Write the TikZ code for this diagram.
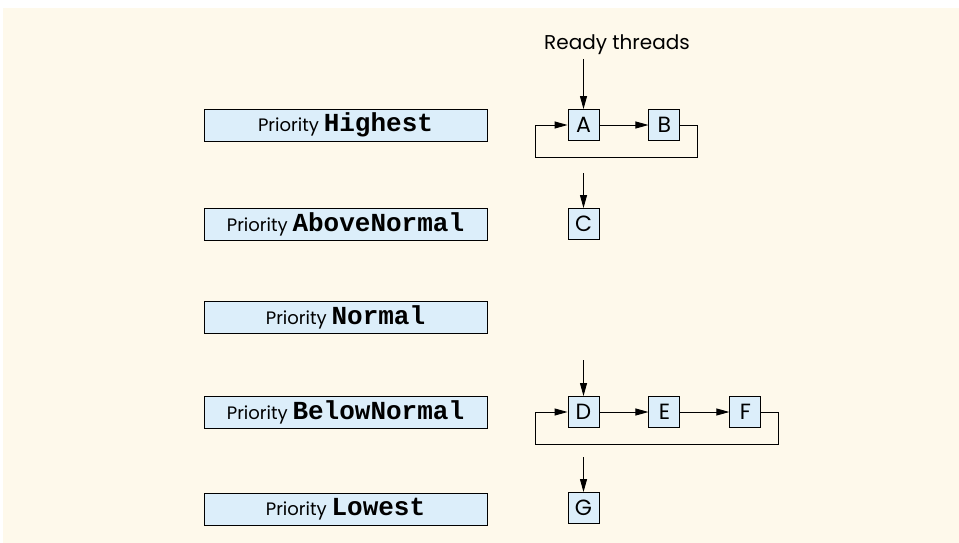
\documentclass[tikz,border=0pt]{standalone}
\usepackage{fontspec}
\setmainfont{Poppins}
\setmonofont{Liberation Mono}
\usepackage{xcolor}
\definecolor{paper}{HTML}{FEF9EB}
\definecolor{boxfill}{HTML}{DCEEFA}
\usetikzlibrary{arrows.meta, positioning, calc}

\newcommand{\prio}[1]{Priority {\fontsize{26}{26}\selectfont\ttfamily\bfseries #1}}

\begin{document}
\begin{tikzpicture}[x=1pt, y=-1pt, line width=0.9pt,
    arr/.style={-{Triangle[length=13pt, width=7pt]}},
    priobox/.style={draw, fill=boxfill, minimum width=283pt, minimum height=32pt,
        inner sep=0pt, font=\fontsize{18}{20}\selectfont},
    thread/.style={draw, fill=boxfill, minimum width=31pt, minimum height=31pt,
        inner sep=0pt, font=\fontsize{22}{22}\selectfont}]
  \useasboundingbox (0,0) rectangle (959,543);
  \fill[paper] (3,8) rectangle (959,543);

  % priority levels
  \node[priobox] (highest) at (345.5,125) {\prio{Highest}};
  \node[priobox] (above)   at (345.5,224) {\prio{AboveNormal}};
  \node[priobox] (normal)  at (345.5,317) {\prio{Normal}};
  \node[priobox] (below)   at (345.5,412) {\prio{BelowNormal}};
  \node[priobox] (lowest)  at (345.5,509) {\prio{Lowest}};

  % threads
  \node[thread] (A) at (583.5,125) {A};
  \node[thread, right=49pt of A] (B) {B};
  \node[thread] (C) at (583.5,224) {C};
  \node[thread] (D) at (583.5,412) {D};
  \node[thread, right=49pt of D] (E) {E};
  \node[thread, right=49pt of E] (F) {F};
  \node[thread] (G) at (583.5,508) {G};

  \node[font=\fontsize{20}{22}\selectfont] (ready) at (617,45) {Ready threads};

  \coordinate (inC) at ([yshift=35pt]C.north);
  \coordinate (inD) at ([yshift=36pt]D.north);
  \coordinate (inG) at ([yshift=35pt]G.north);

  \draw[arr] (ready.south -| A.north) -- (A.north);
  \draw[arr] (A) -- (B);
  \draw[arr] (B.east) -- ++(17pt,0) -- ++(0,-32pt) -| ([xshift=-32pt]A.west) -- (A.west);
  \draw[arr] (inC) -- (C.north);

  \draw[arr] (inD) -- (D.north);
  \draw[arr] (D) -- (E);
  \draw[arr] (E) -- (F);
  \draw[arr] (F.east) -- ++(17pt,0) -- ++(0,-32pt) -| ([xshift=-32pt]D.west) -- (D.west);
  \draw[arr] (inG) -- (G.north);
\end{tikzpicture}
\end{document}
